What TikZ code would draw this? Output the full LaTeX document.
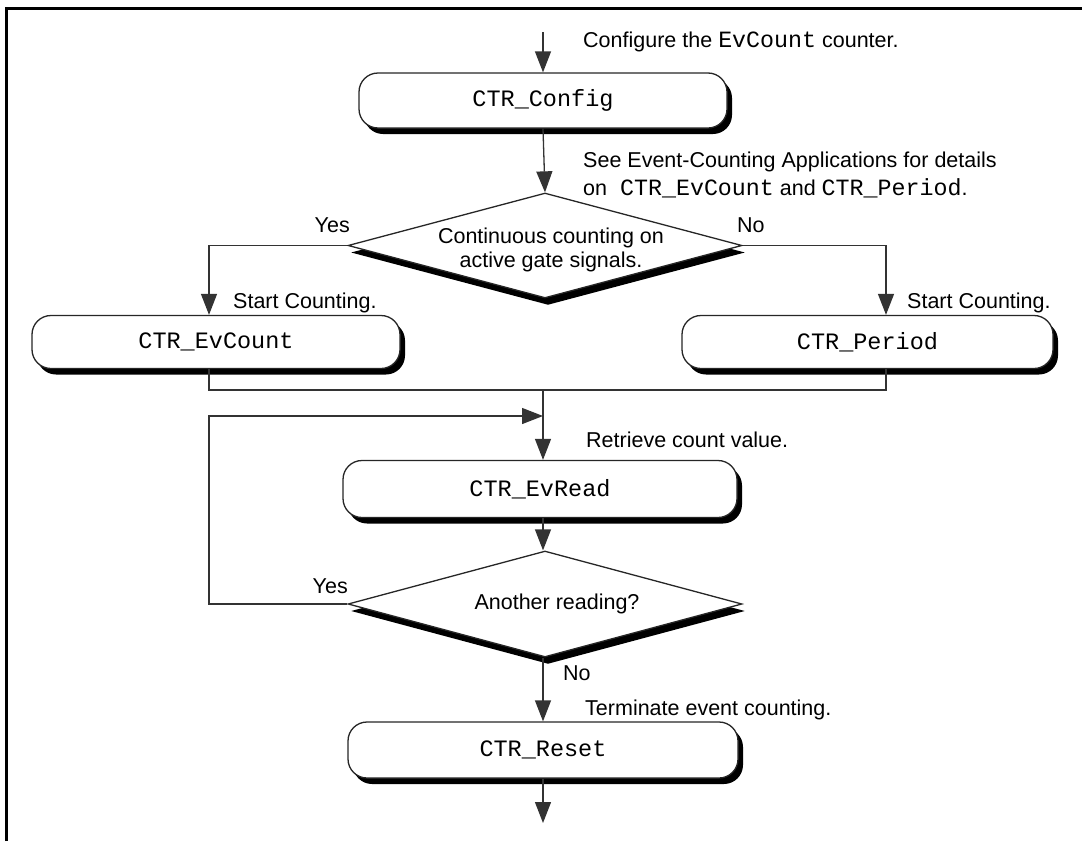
\documentclass[tikz,border=0pt]{standalone}
\usepackage{fontspec}
\setmainfont{Liberation Sans}
\setmonofont{Liberation Mono}
\usetikzlibrary{shapes.geometric,arrows.meta,shadows}
\newcommand\cde[1]{{\fontsize{23.3}{24}\selectfont\ttfamily #1}}
\begin{document}
\begin{tikzpicture}[x=1pt,y=-1pt,
  txt/.style={font=\fontsize{21.5}{24}\selectfont, inner sep=0pt},
  box/.style={rectangle, rounded corners=19pt, draw=black!85, line width=1.3pt, fill=white,
    minimum height=55pt, inner sep=0pt, font=\fontsize{23.5}{26}\selectfont\ttfamily,
    drop shadow={shadow xshift=5pt, shadow yshift=-6pt, fill=black, opacity=1}},
  dec/.style={diamond, draw=black!85, line width=1.3pt, fill=white, inner sep=0pt,
    drop shadow={shadow xshift=3pt, shadow yshift=-7pt, fill=black, opacity=1}},
  conn/.style={draw=black!80, line width=1.3pt},
  arr/.style={conn, -{Triangle[length=21pt,width=16pt]}},
  frame/.style={draw=black, line width=3pt}
]
\useasboundingbox (0,0) rectangle (1082,841);
\draw[frame] (6.5,841) -- (6.5,8.5) -- (1082,8.5);

% nodes
\node[box, minimum width=368pt] (cfg) at (543,100.5) {CTR\_Config};
\node[dec, minimum width=394pt, minimum height=105pt] (d1) at (545,245.5) {};
\node[txt, align=center] (d1t) at (551,249.5) {Continuous counting on\\active gate signals.};
\node[box, minimum width=368pt, minimum height=53pt] (ec) at (216,342) {CTR\_EvCount};
\node[box, minimum width=371pt, minimum height=53pt] (per) at (867.5,342) {CTR\_Period};
\node[box, minimum width=394pt, minimum height=57pt] (rd) at (540,489) {CTR\_EvRead};
\node[dec, minimum width=394pt, minimum height=106pt] (d2) at (545,604) {};
\node[txt] (d2t) at (557,604) {Another reading?};
\node[box, minimum width=390pt, minimum height=56pt] (rs) at (543,750) {CTR\_Reset};

\coordinate (top) at (543,32);
\coordinate (j) at (543,390);
\coordinate (lp) at (209,416);
\coordinate (m) at (543,416);
\coordinate (end) at (543,823);

% labels
\node[txt, anchor=base west] (l1) at (583,47) {Configure the \cde{EvCount} counter.};
\node[txt, anchor=base west] (l2) at (583,167) {See Event-Counting Applications for details};
\node[txt, anchor=base west] (l3) at (583,195) {on\hspace{13pt}\cde{CTR\_EvCount} and \cde{CTR\_Period}.};
\node[txt, anchor=base east] (y1) at (350,232) {Yes};
\node[txt, anchor=base west] (n1) at (737,232) {No};
\node[txt, anchor=base west] (s1) at (233,308) {Start Counting.};
\node[txt, anchor=base west] (s2) at (907,308) {Start Counting.};
\node[txt, anchor=base west] (l4) at (586,447) {Retrieve count value.};
\node[txt, anchor=base east] (y2) at (348,593) {Yes};
\node[txt, anchor=base west] (n2) at (563,680) {No};
\node[txt, anchor=base west] (l5) at (585,715) {Terminate event counting.};

% connectors
\draw[arr] (top) -- (cfg.north);
\draw[arr] (cfg.south) -- (d1.north);
\draw[arr] (d1.west) -| ([xshift=-7pt]ec.north);
\draw[arr] (d1.east) -| ([xshift=18.5pt]per.north);
\draw[conn] ([xshift=-7pt]ec.south) |- (j) -| ([xshift=18.5pt]per.south);
\draw[arr] (j) -- (rd.north -| j);
\draw[arr] (rd.south -| j) -- (d2.north -| j);
\draw[arr] (d2.west) -| (lp) -- (m);
\draw[arr] (d2.south -| j) -- (rs.north);
\draw[arr] (rs.south) -- (end);
\end{tikzpicture}
\end{document}
